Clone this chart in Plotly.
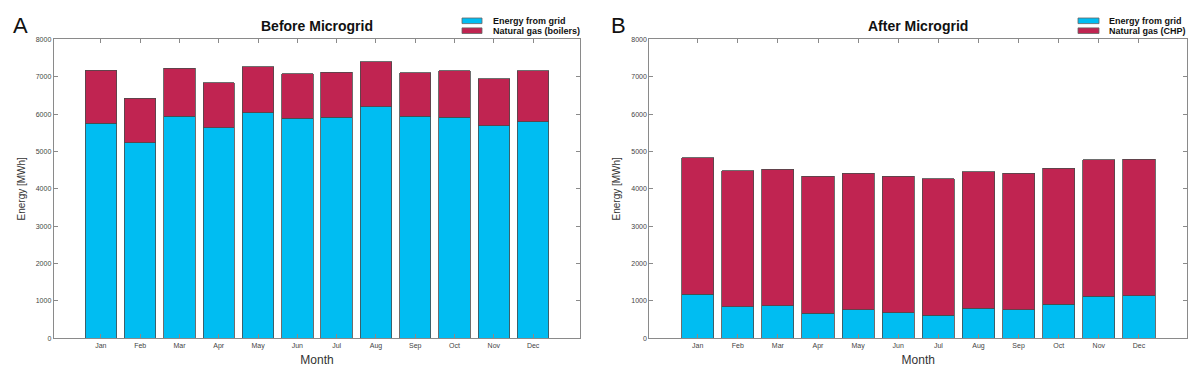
import plotly.graph_objects as go

months = ["Jan", "Feb", "Mar", "Apr", "May", "Jun", "Jul", "Aug", "Sep", "Oct", "Nov", "Dec"]

# Before Microgrid (MWh)
before_grid = [5750, 5230, 5940, 5630, 6030, 5890, 5920, 6200, 5940, 5920, 5685, 5790]
before_total = [7170, 6425, 7225, 6835, 7270, 7075, 7125, 7405, 7100, 7165, 6950, 7165]
before_gas = [t - g for t, g in zip(before_total, before_grid)]

# After Microgrid (MWh)
after_grid = [1185, 845, 865, 675, 760, 685, 615, 810, 760, 905, 1130, 1135]
after_total = [4835, 4480, 4520, 4330, 4410, 4340, 4270, 4455, 4410, 4555, 4780, 4795]
after_gas = [t - g for t, g in zip(after_total, after_grid)]

y_ticks = [0, 1000, 2000, 3000, 4000, 5000, 6000, 7000, 8000]

legend_left = ["Energy from grid", "Natural gas (boilers)"]
legend_right = ["Energy from grid", "Natural gas (CHP)"]

BLUE = "#00BDF2"
RED = "#C02451"
EDGE = "#4a4a4a"
FONT = "Liberation Sans, Arial, sans-serif"
W, H = 1200, 379


def px(x):
    return x / W


def py(y):
    return 1 - y / H


fig = go.Figure()

for xa, ya, grid, gas, names in [("x", "y", before_grid, before_gas, legend_left),
                                 ("x2", "y2", after_grid, after_gas, legend_right)]:
    fig.add_trace(go.Bar(x=months, y=grid, name=names[0], showlegend=False,
                         marker=dict(color=BLUE, line=dict(color=EDGE, width=0.8)),
                         width=0.8, xaxis=xa, yaxis=ya))
    fig.add_trace(go.Bar(x=months, y=gas, name=names[1], showlegend=False,
                         marker=dict(color=RED, line=dict(color=EDGE, width=0.8)),
                         width=0.8, xaxis=xa, yaxis=ya))

axis_common = dict(showline=True, linecolor="#8a8a8a", linewidth=1, mirror="ticks",
                   ticks="inside", ticklen=4, tickcolor="#8a8a8a", showgrid=False,
                   zeroline=False, automargin=False,
                   tickfont=dict(size=7, color="#444", family=FONT))

ydom = [py(338.3), py(39.3)]
xtitle = dict(text="Month", font=dict(size=12, color="#333"), standoff=6)
ytitle = dict(text="Energy [MWh]", font=dict(size=10, color="#333"), standoff=8)

annotations = [
    dict(text="<b>Before Microgrid</b>", x=px(317), y=py(25.7)),
    dict(text="<b>After Microgrid</b>", x=px(918), y=py(25.7)),
]
for a in annotations:
    a.update(xref="paper", yref="paper", showarrow=False, xanchor="center", yanchor="middle",
             font=dict(size=14, family=FONT, color="#111"))
for letter, xc in [("A", 20.5), ("B", 618)]:
    annotations.append(dict(text=letter, x=px(xc), y=py(25), xref="paper", yref="paper",
                            showarrow=False, xanchor="center", yanchor="middle",
                            font=dict(size=22, family=FONT, color="#111")))

shapes = []
for (bx0, bx1, tx), names in [((462, 482, 491), legend_left), ((1078, 1099, 1107), legend_right)]:
    for i, (name, col) in enumerate(zip(names, [BLUE, RED])):
        yc = 20.8 + 9.9 * i
        shapes.append(dict(type="rect", xref="paper", yref="paper",
                           x0=px(bx0), x1=px(bx1), y0=py(yc - 2.8), y1=py(yc + 2.8),
                           fillcolor=col, line=dict(color="#666", width=0.8)))
        annotations.append(dict(text="<b>%s</b>" % name, x=px(tx), y=py(yc), xref="paper", yref="paper",
                                showarrow=False, xanchor="left", yanchor="middle",
                                font=dict(size=9, family=FONT, color="#111")))

fig.update_layout(
    width=W, height=H,
    margin=dict(l=0, r=0, t=0, b=0),
    paper_bgcolor="white", plot_bgcolor="white",
    barmode="stack", showlegend=False,
    font=dict(family=FONT, color="#222"),
    xaxis=dict(domain=[px(53.7), px(580.3)], range=[-1.2, 12.2], title=xtitle, anchor="y", **axis_common),
    yaxis=dict(domain=ydom, range=[0, 8000], tickvals=y_ticks, title=ytitle, anchor="x", **axis_common),
    xaxis2=dict(domain=[px(649.3), px(1187.3)], range=[-1.205, 12.205], title=xtitle, anchor="y2", **axis_common),
    yaxis2=dict(domain=ydom, range=[0, 8000], tickvals=y_ticks, title=ytitle, anchor="x2", **axis_common),
    annotations=annotations,
    shapes=shapes,
)

fig.write_html("out.html", config={"displayModeBar": False},
               post_script="document.body.style.margin='0';document.body.style.overflow='hidden';")
